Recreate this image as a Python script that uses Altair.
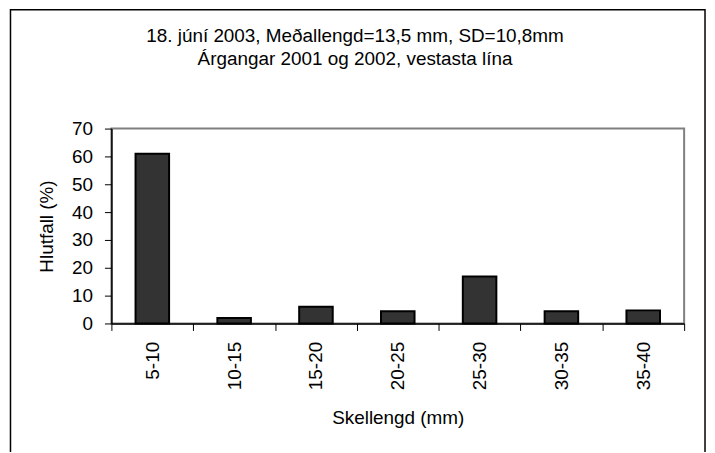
import altair as alt
import pandas as pd

categories = ["5-10", "10-15", "15-20", "20-25", "25-30", "30-35", "35-40"]
values = [61.0, 2.0, 6.0, 4.4, 16.9, 4.4, 4.7]
y_ticks = [0, 10, 20, 30, 40, 50, 60, 70]
title_lines = ["18. júní 2003, Meðallengd=13,5 mm, SD=10,8mm",
               "Árgangar 2001 og 2002, vestasta lína"]

df = pd.DataFrame({"cat": categories, "val": values})
FONT = "Liberation Sans"

bars = alt.Chart(df).mark_bar(
    color="#333333", stroke="#000000", strokeWidth=2,
    width=alt.RelativeBandSize(0.41)
).encode(
    x=alt.X("cat:N", sort=categories,
            scale=alt.Scale(paddingInner=0, paddingOuter=0),
            axis=alt.Axis(title="Skellengd (mm)", labelAngle=-90,
                          tickBand="extent", tickSize=7, labelPadding=11,
                          titleY=101, titleBaseline="alphabetic")),
    y=alt.Y("val:Q", scale=alt.Scale(domain=[0, 70], nice=False),
            axis=alt.Axis(title="Hlutfall (%)", values=y_ticks, tickSize=7,
                          labelPadding=12, grid=False,
                          titleX=-59, titleY=98, titleAngle=-90,
                          titleBaseline="alphabetic", titleAlign="center")),
)

border = alt.Chart(alt.Data(values=[{}])).mark_rect(
    fill="transparent", stroke="#000000", strokeWidth=1.5, clip=False
).encode(
    x=alt.value(-101.5), x2=alt.value(597),
    y=alt.value(-119.5), y2=alt.value(340)
)

chart = alt.layer(bars, border).properties(
    width=576, height=196,
    background="white",
    autosize=alt.AutoSizeParams(type="none"),
    padding={"left": 104, "top": 120, "right": 23, "bottom": 128},
    title=alt.Title(title_lines, anchor="middle", dx=-43, offset=-60,
                    fontSize=19, font=FONT, fontWeight="normal",
                    lineHeight=23, color="#000000"),
).configure_view(
    stroke="#808080", strokeWidth=2
).configure_axis(
    labelFont=FONT, titleFont=FONT, labelFontSize=19, titleFontSize=19,
    titleFontWeight="normal", labelColor="#000000", titleColor="#000000",
    domainColor="#000000", domainWidth=1.5, tickColor="#000000", tickWidth=1
)

chart.save("out.html", embed_options={"renderer": "svg", "actions": False})
